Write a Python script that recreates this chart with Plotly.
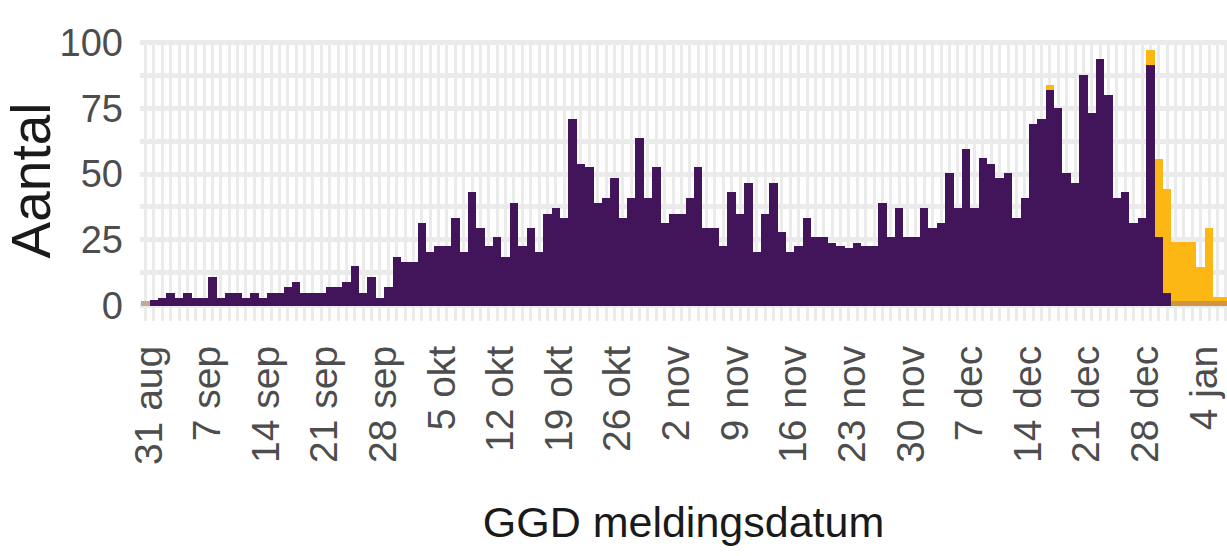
import pandas as pd
import plotly.graph_objects as go

# dagelijkse meldingen, 30 aug 2020 t/m 6 jan 2021
DATES = pd.date_range("2020-08-30", periods=130, freq="D")

PURPLE_VALUES = [
    0, 2, 3, 5, 3, 5, 3, 3, 11, 3,
    5, 5, 3, 5, 3, 5, 5, 7, 9, 5,
    5, 5, 7, 7, 9, 15, 5, 11, 3, 7,
    18.5, 16.5, 16.5, 31.5, 20.5, 22.5, 22.5, 33.5, 20.5, 43,
    29.5, 22.5, 26, 18.5, 39, 22.5, 29.5, 20.5, 35, 37,
    33.5, 71, 54, 52.5, 39, 41, 48.5, 33.5, 41, 63.5,
    41, 52.5, 31.5, 35, 35, 41, 52.5, 29.5, 29.5, 22.5,
    43, 35, 46.5, 20.5, 35, 46.5, 28, 20.5, 22.5, 33.5,
    26, 26, 24, 22.5, 22, 24, 22.5, 22.5, 39, 26,
    37, 26, 26, 37, 29.5, 31.5, 50.5, 37, 59.5, 37,
    56, 54, 48.5, 50.5, 33.5, 41, 69, 71, 82, 75,
    50.5, 46.5, 87.5, 73, 93.5, 80, 41, 43, 31.5, 33.5,
    91.5, 26, 5, 0, 0, 0, 0, 0, 0, 0,
]

ORANGE_VALUES = [0] * 108 + [1.9] + [0] * 11 + [
    5.7, 29.7, 39.5, 22.4, 22.4, 22.4, 13, 27.7, 1.5, 1.5,
]

# dunne onderste laag (vermengde kleur in het origineel)
BASE_VALUES = [1.8] + [0] * 122 + [1.8] * 7

TICK_DATES = [
    "2020-08-31", "2020-09-07", "2020-09-14", "2020-09-21", "2020-09-28",
    "2020-10-05", "2020-10-12", "2020-10-19", "2020-10-26", "2020-11-02",
    "2020-11-09", "2020-11-16", "2020-11-23", "2020-11-30", "2020-12-07",
    "2020-12-14", "2020-12-21", "2020-12-28", "2021-01-04",
]
TICK_LABELS = [
    "31 aug", "7 sep", "14 sep", "21 sep", "28 sep",
    "5 okt", "12 okt", "19 okt", "26 okt", "2 nov",
    "9 nov", "16 nov", "23 nov", "30 nov", "7 dec",
    "14 dec", "21 dec", "28 dec", "4 jan",
]
Y_TICKS = [0, 25, 50, 75, 100]

PURPLE = "#42145a"
ORANGE = "#fdb714"
TAN = "#c4a891"
BROWN = "#d0963f"
GRID = "#ebebeb"
FONT = "Liberation Sans, Arial, sans-serif"

base_colors = [TAN] + [BROWN] * (len(BASE_VALUES) - 1)

fig = go.Figure()
fig.add_trace(go.Bar(x=DATES, y=BASE_VALUES, marker=dict(color=base_colors, line_width=0),
                     showlegend=False))
fig.add_trace(go.Bar(x=DATES, y=PURPLE_VALUES, marker=dict(color=PURPLE, line_width=0),
                     showlegend=False))
fig.add_trace(go.Bar(x=DATES, y=ORANGE_VALUES, marker=dict(color=ORANGE, line_width=0),
                     showlegend=False))

fig.update_layout(
    width=1227,
    height=556,
    barmode="stack",
    bargap=0,
    margin=dict(l=140, r=0, t=40, b=235),
    plot_bgcolor="white",
    paper_bgcolor="white",
    font=dict(family=FONT, color="#1a1a1a"),
    xaxis=dict(
        type="date",
        range=["2020-08-29 08:14", "2021-01-06 03:36"],
        tickvals=TICK_DATES,
        ticktext=TICK_LABELS,
        tickangle=-90,
        tickfont=dict(size=39, color="#4d4d4d"),
        ticks="",
        ticklabelstandoff=16,
        ticklabelshift=-5,
        ticklabeloverflow="allow",
        showgrid=False,
        # dagelijkse rasterlijnen
        minor=dict(dtick=86400000, tick0="2020-08-30", showgrid=True,
                   gridcolor=GRID, gridwidth=3),
        zeroline=False,
        showline=False,
        automargin=False,
        title=dict(text="GGD meldingsdatum", font=dict(size=43), standoff=42),
    ),
    yaxis=dict(
        range=[-5.8, 100.9],
        tickvals=Y_TICKS,
        tickfont=dict(size=38, color="#4d4d4d"),
        ticks="",
        ticklabelstandoff=16,
        showgrid=True,
        gridcolor=GRID,
        gridwidth=4.5,
        minor=dict(dtick=12.5, tick0=0, showgrid=True, gridcolor=GRID, gridwidth=4.5),
        zeroline=False,
        showline=False,
        automargin=False,
        title=dict(text="Aantal", font=dict(size=55), standoff=16),
    ),
)

# de pagina zonder witrand rond de figuur
fig.write_html(
    "out.html",
    config={"displayModeBar": False},
    post_script="document.body.style.margin = '0px';",
)
